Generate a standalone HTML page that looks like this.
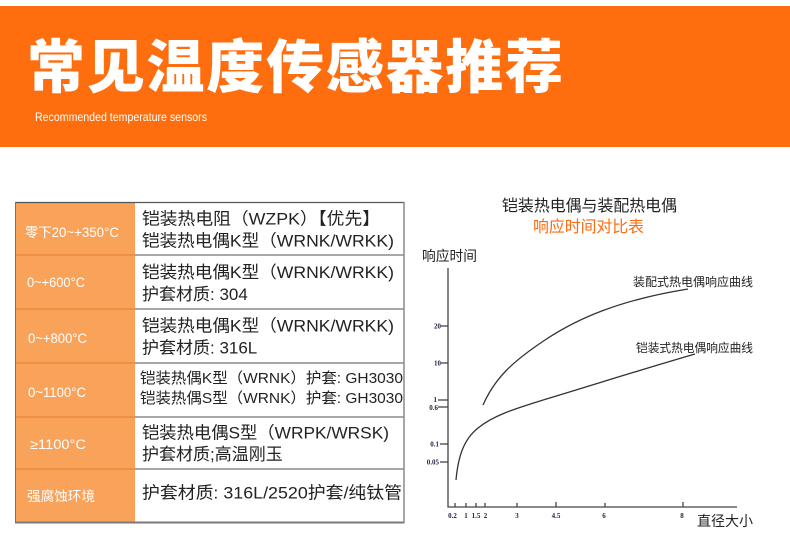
<!DOCTYPE html>
<html>
<head>
<meta charset="utf-8">
<style>
  html,body{margin:0;padding:0;background:#fff;}
  body{width:790px;height:548px;overflow:hidden;position:relative;}
  svg{position:absolute;left:0;top:0;display:block;}
  .cjk{font-family:"Liberation Sans","Noto Sans CJK SC",sans-serif;}
</style>
</head>
<body>
<svg width="790" height="548" viewBox="0 0 790 548" xmlns="http://www.w3.org/2000/svg" class="cjk">
  <!-- Header band -->
  <rect x="0" y="6" width="790" height="141" fill="#ff6e0e"/>
  <text x="27" y="87.5" font-size="58" font-weight="900" fill="#ffffff" textLength="536" lengthAdjust="spacing" font-family="Liberation Sans, Noto Sans CJK SC, sans-serif">常见温度传感器推荐</text>
  <text x="35" y="121" font-size="11.5" fill="#ffffff" textLength="172" lengthAdjust="spacingAndGlyphs" font-family="Liberation Sans, sans-serif">Recommended temperature sensors</text>

  <!-- Table -->
  <rect x="15" y="202" width="120" height="321" fill="#f9a25a"/>
  <g stroke="#e8873a" stroke-width="1.2">
    <line x1="15" y1="255" x2="135" y2="255"/>
    <line x1="15" y1="309" x2="135" y2="309"/>
    <line x1="15" y1="363" x2="135" y2="363"/>
    <line x1="15" y1="417" x2="135" y2="417"/>
    <line x1="15" y1="469" x2="135" y2="469"/>
  </g>
  <g stroke="#8c8c8c" stroke-width="1.5">
    <line x1="135" y1="255" x2="404" y2="255"/>
    <line x1="135" y1="309" x2="404" y2="309"/>
    <line x1="135" y1="363" x2="404" y2="363"/>
    <line x1="135" y1="417" x2="404" y2="417"/>
    <line x1="135" y1="469" x2="404" y2="469"/>
  </g>
  <line x1="15" y1="202.5" x2="404.5" y2="202.5" stroke="#555" stroke-width="1.3"/>
  <line x1="15" y1="522.5" x2="404.5" y2="522.5" stroke="#7a7a7a" stroke-width="2"/>
  <line x1="404" y1="202" x2="404" y2="523" stroke="#8a8a8a" stroke-width="1.5"/>
  <line x1="15.5" y1="202" x2="15.5" y2="523" stroke="#4a78c8" stroke-width="1"/>

  <!-- left column labels -->
  <g fill="#ffffff" font-size="13.5">
    <text x="25" y="237" textLength="94" lengthAdjust="spacingAndGlyphs">零下20~+350°C</text>
    <text x="27" y="287" textLength="58" lengthAdjust="spacingAndGlyphs">0~+600°C</text>
    <text x="28" y="343" textLength="59" lengthAdjust="spacingAndGlyphs">0~+800°C</text>
    <text x="28" y="397" textLength="58" lengthAdjust="spacingAndGlyphs">0~1100°C</text>
    <text x="30" y="449" textLength="56" lengthAdjust="spacingAndGlyphs">≥1100°C</text>
    <text x="27" y="501" textLength="68" lengthAdjust="spacingAndGlyphs">强腐蚀环境</text>
  </g>

  <!-- right column text -->
  <g fill="#222222" font-size="17">
    <text x="142" y="224.5" textLength="238" lengthAdjust="spacingAndGlyphs">铠装热电阻（WZPK）【优先】</text>
    <text x="142" y="246.5" textLength="252" lengthAdjust="spacingAndGlyphs">铠装热电偶K型（WRNK/WRKK)</text>
    <text x="142" y="278" textLength="252" lengthAdjust="spacingAndGlyphs">铠装热电偶K型（WRNK/WRKK)</text>
    <text x="142" y="300">护套材质: 304</text>
    <text x="142" y="331.5" textLength="252" lengthAdjust="spacingAndGlyphs">铠装热电偶K型（WRNK/WRKK)</text>
    <text x="142" y="353.5">护套材质: 316L</text>
    <text x="142" y="438.5" textLength="247" lengthAdjust="spacingAndGlyphs">铠装热电偶S型（WRPK/WRSK)</text>
    <text x="142" y="460">护套材质;高温刚玉</text>
    <text x="142" y="498.5" textLength="260" lengthAdjust="spacingAndGlyphs">护套材质: 316L/2520护套/纯钛管</text>
  </g>
  <g fill="#222222" font-size="15">
    <text x="140" y="383" textLength="263" lengthAdjust="spacingAndGlyphs">铠装热偶K型（WRNK）护套: GH3030</text>
    <text x="140" y="403" textLength="263" lengthAdjust="spacingAndGlyphs">铠装热偶S型（WRNK）护套: GH3030</text>
  </g>

  <!-- Chart titles -->
  <text x="502" y="211" font-size="16" fill="#222" textLength="175" lengthAdjust="spacingAndGlyphs">铠装热电偶与装配热电偶</text>
  <text x="533" y="232" font-size="16" fill="#ff6a10" textLength="111" lengthAdjust="spacingAndGlyphs">响应时间对比表</text>
  <text x="422" y="261" font-size="14" fill="#222" textLength="55" lengthAdjust="spacingAndGlyphs">响应时间</text>
  <text x="697" y="526" font-size="14" fill="#222" textLength="56" lengthAdjust="spacingAndGlyphs">直径大小</text>
  <text x="633" y="286" font-size="12" fill="#222" textLength="120" lengthAdjust="spacingAndGlyphs">装配式热电偶响应曲线</text>
  <text x="636" y="352" font-size="12" fill="#222" textLength="117" lengthAdjust="spacingAndGlyphs">铠装式热电偶响应曲线</text>

  <!-- Axes -->
  <g stroke="#444" stroke-width="1.3" fill="none">
    <line x1="448" y1="268" x2="448" y2="507.5"/>
    <line x1="447.5" y1="507" x2="737" y2="507"/>
    <line x1="441" y1="326" x2="448" y2="326"/>
    <line x1="441" y1="363" x2="448" y2="363"/>
    <line x1="438" y1="400" x2="448" y2="400"/>
    <line x1="438" y1="407" x2="448" y2="407"/>
    <line x1="440" y1="444" x2="448" y2="444"/>
    <line x1="440" y1="462" x2="448" y2="462"/>
    <line x1="455" y1="503" x2="455" y2="507"/>
    <line x1="466" y1="503" x2="466" y2="507"/>
    <line x1="476" y1="503" x2="476" y2="507"/>
    <line x1="485" y1="503" x2="485" y2="507"/>
    <line x1="517" y1="503" x2="517" y2="507"/>
    <line x1="556" y1="502" x2="556" y2="507"/>
    <line x1="605" y1="503" x2="605" y2="507"/>
    <line x1="683" y1="502" x2="683" y2="507"/>
  </g>

  <!-- tick labels -->
  <g font-size="7" font-weight="bold" fill="#23234a" font-family="Liberation Serif, serif">
    <text x="441" y="328.5" text-anchor="end">20</text>
    <text x="441" y="365.5" text-anchor="end">10</text>
    <text x="437" y="402" text-anchor="end">1</text>
    <text x="438" y="410" text-anchor="end">0.6</text>
    <text x="439" y="446.5" text-anchor="end">0.1</text>
    <text x="439" y="464.5" text-anchor="end">0.05</text>
    <text x="452.5" y="518" text-anchor="middle">0.2</text>
    <text x="466" y="518" text-anchor="middle">1</text>
    <text x="476" y="518" text-anchor="middle">1.5</text>
    <text x="485.5" y="518" text-anchor="middle">2</text>
    <text x="517" y="518" text-anchor="middle">3</text>
    <text x="556" y="518" text-anchor="middle">4.5</text>
    <text x="604" y="518" text-anchor="middle">6</text>
    <text x="682" y="518" text-anchor="middle">8</text>
  </g>

  <!-- curves -->
  <g stroke="#333" stroke-width="1.3" fill="none">
    <path d="M483,405 C495,378 512,362 545,340 S620,300 688,289"/>
    <path d="M456,480 C458,458 463,440 478,428 S510,410 553,397 S640,370 695,354"/>
  </g>
</svg>
</body>
</html>
